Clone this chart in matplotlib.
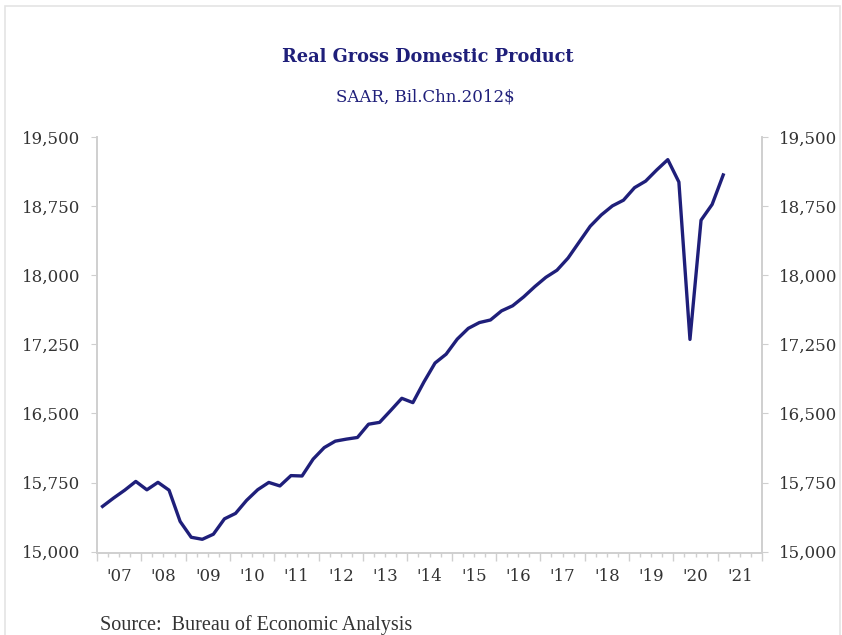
import matplotlib
matplotlib.use("Agg")
import matplotlib.pyplot as plt
from matplotlib.patches import Rectangle
import numpy as np

# Quarterly real GDP, SAAR, billions of chained 2012 dollars (2007Q1 - 2021Q1)
quarters = [f"{y}Q{q}" for y in range(2007, 2022) for q in range(1, 5)][:57]
gdp = [15491, 15582, 15667, 15762,
       15671, 15752, 15667, 15328,
       15156, 15134, 15189, 15356,
       15415, 15557, 15672, 15751,
       15713, 15825, 15821, 16004,
       16129, 16199, 16221, 16239,
       16383, 16403, 16532, 16664,
       16617, 16842, 17047, 17143,
       17306, 17423, 17486, 17514,
       17613, 17668, 17765, 17876,
       17977, 18054, 18186, 18359,
       18531, 18654, 18752, 18814,
       18950, 19021, 19142, 19254,
       19011, 17303, 18597, 18768,
       19088]
year_labels = ["'07", "'08", "'09", "'10", "'11", "'12", "'13", "'14",
               "'15", "'16", "'17", "'18", "'19", "'20", "'21"]
y_ticks = [15000, 15750, 16500, 17250, 18000, 18750, 19500]

navy = "#1f1f7a"
grey_txt = "#333333"
spine_c = "#cfcfcf"

# x positions: quarter midpoints in fractional years
x = np.array([int(q[:4]) + (int(q[-1]) - 1) * 0.25 + 0.125 for q in quarters])

fig = plt.figure(figsize=(8.42, 6.35), dpi=100)
fig.patches.append(Rectangle((0.006, -0.01), 0.992, 1.0, transform=fig.transFigure,
                             fill=False, edgecolor="#e4e4e4", lw=1.2))
ax = fig.add_axes([0.1152, 0.1291, 0.7898, 0.6552])
ax.plot(x, gdp, color=navy, lw=2.4, solid_joinstyle="round")

ax.set_xlim(2007, 2022)
ax.set_ylim(14985, 19500)

years = np.arange(2007, 2023)
ax.set_xticks(years)
ax.set_xticklabels([""] * len(years))
minor_pos = [y + f for y in range(2007, 2022) for f in (0.25, 0.5, 0.75)]
minor_lab = [year_labels[int(p) - 2007] if abs(p - int(p) - 0.5) < 1e-9 else "" for p in minor_pos]
ax.set_xticks(minor_pos, minor=True)
ax.set_xticklabels(minor_lab, minor=True)
ax.tick_params(axis="x", which="major", length=6, color=spine_c, width=1)
ax.tick_params(axis="x", which="minor", length=3, color=spine_c, width=1,
               labelsize=12, labelcolor=grey_txt, pad=8)
for lab in ax.get_xticklabels(minor=True):
    lab.set_family("DejaVu Serif")

ax.set_yticks(y_ticks)
ax.set_yticklabels([f"{v:,}" for v in y_ticks], family="DejaVu Serif")
ax.tick_params(axis="y", length=4, color=spine_c, labelsize=12, labelcolor=grey_txt, pad=8)

ax2 = ax.twinx()
ax2.set_ylim(ax.get_ylim())
ax2.set_yticks(y_ticks)
ax2.set_yticklabels([f"{v:,}" for v in y_ticks], family="DejaVu Serif")
ax2.tick_params(axis="y", length=4, color=spine_c, labelsize=12, labelcolor=grey_txt, pad=8)

for a in (ax, ax2):
    a.spines["top"].set_visible(False)
    for s in ("left", "right", "bottom"):
        a.spines[s].set_color(spine_c)
        a.spines[s].set_linewidth(1.2)

fig.text(0.508, 0.91, "Real Gross Domestic Product", ha="center", va="center",
         family="DejaVu Serif", fontweight="bold", fontsize=12.8, color=navy)
fig.text(0.505, 0.847, "SAAR, Bil.Chn.2012$", ha="center", va="center",
         family="DejaVu Serif", fontsize=12, color=navy)
fig.text(0.119, 0.016, "Source:  Bureau of Economic Analysis", ha="left", va="center",
         family="Liberation Serif", fontsize=14.5, color=grey_txt)

fig.savefig("out.png", dpi=100, facecolor="white")
